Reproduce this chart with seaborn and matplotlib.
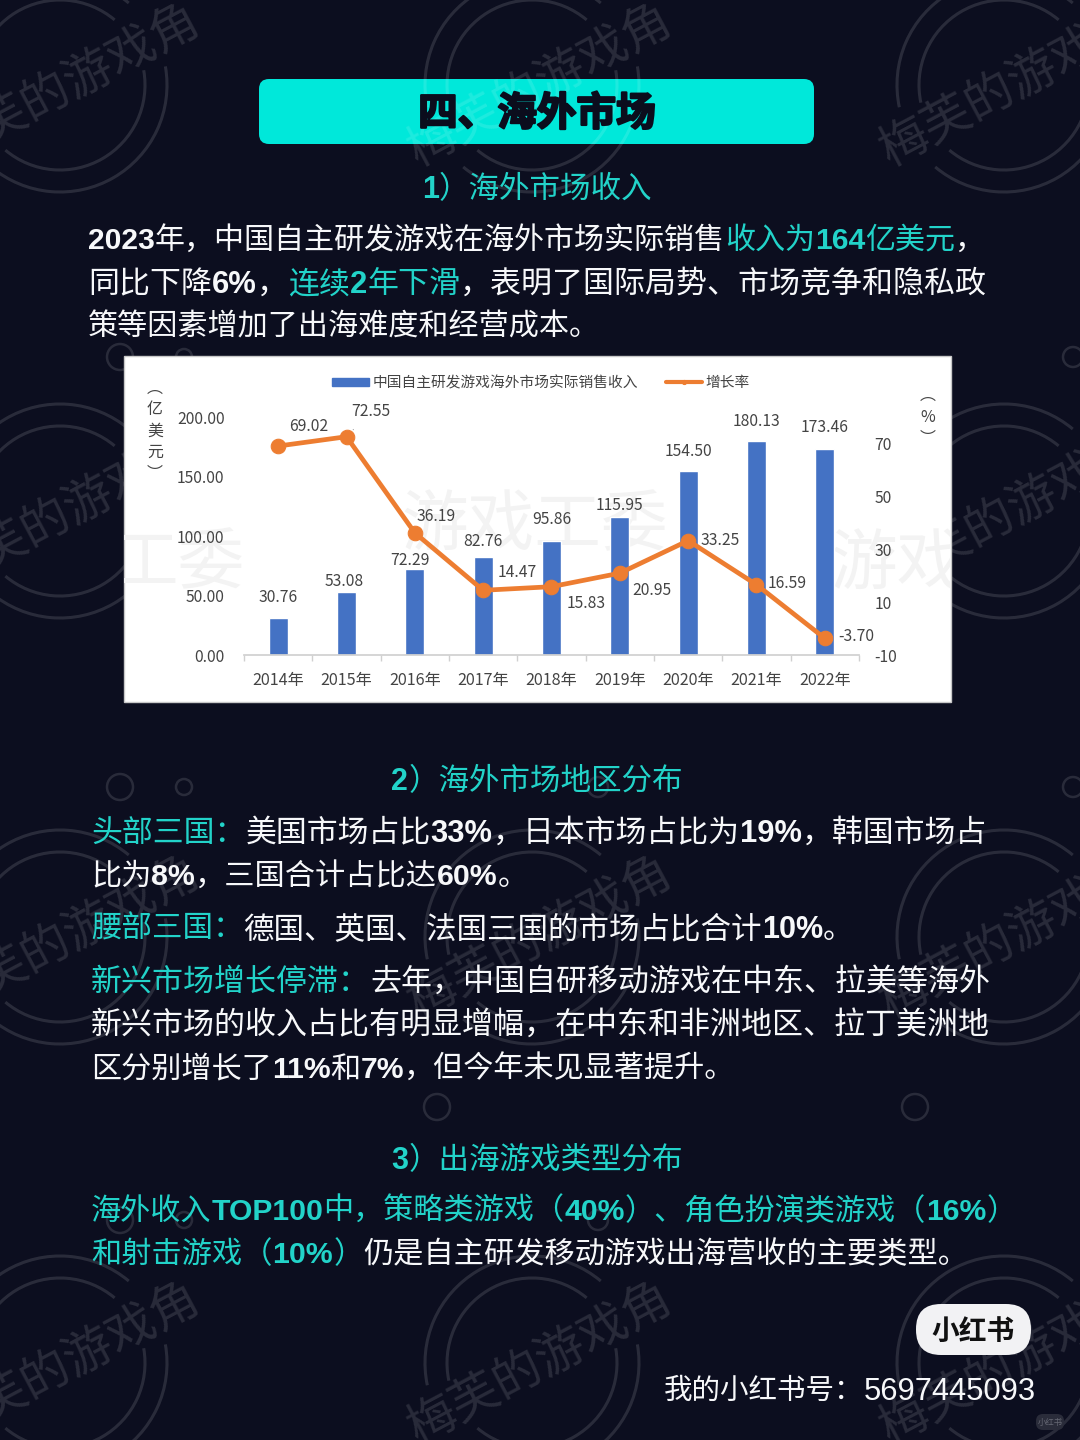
import matplotlib
matplotlib.use('Agg')
import matplotlib.pyplot as plt
from matplotlib.patches import Arc, Circle, FancyBboxPatch, Rectangle, Patch
from matplotlib.font_manager import FontProperties
import matplotlib.patheffects as pe
import seaborn as sns

# chart data
years = ['2014年', '2015年', '2016年', '2017年', '2018年', '2019年', '2020年', '2021年', '2022年']
revenue = [30.76, 53.08, 72.29, 82.76, 95.86, 115.95, 154.50, 180.13, 173.46]
growth = [69.02, 72.55, 36.19, 14.47, 15.83, 20.95, 33.25, 16.59, -3.70]
left_ticks = [0, 50, 100, 150, 200]
right_ticks = [-10, 10, 30, 50, 70]
bar_name = '中国自主研发游戏海外市场实际销售收入'
line_name = '增长率'

BG = '#0c0e1f'
CYAN = '#22d3c9'
WHITE = '#f7f8fa'
CJK = 'Noto Sans CJK SC'
LATIN = 'Liberation Sans'

# page text, one list of runs (text, colour, bold) per line
body = [
    (88, 239, 987, [('2023', WHITE, True), ('年，中国自主研发游戏在海外市场实际销售', WHITE, False), ('收入为', CYAN, False),
                    ('164', CYAN, True), ('亿美元', CYAN, False), ('，', WHITE, False)]),
    (88, 283, 986, [('同比下降', WHITE, False), ('6%', WHITE, True), ('，', WHITE, False), ('连续', CYAN, False), ('2', CYAN, True),
                    ('年下滑', CYAN, False), ('，表明了国际局势、市场竞争和隐私政', WHITE, False)]),
    (88, 326, 600, [('策等因素增加了出海难度和经营成本。', WHITE, False)]),
    (91, 832, 989, [('头部三国：', CYAN, False), ('美国市场占比', WHITE, False), ('33%', WHITE, True), ('，日本市场占比为', WHITE, False),
                    ('19%', WHITE, True), ('，韩国市场占', WHITE, False)]),
    (91, 875, 528, [('比为', WHITE, False), ('8%', WHITE, True), ('，三国合计占比达', WHITE, False), ('60%', WHITE, True), ('。', WHITE, False)]),
    (91, 928, 855, [('腰部三国：', CYAN, False), ('德国、英国、法国三国的市场占比合计', WHITE, False), ('10%', WHITE, True), ('。', WHITE, False)]),
    (91, 981, 990, [('新兴市场增长停滞：', CYAN, False), ('去年，中国自研移动游戏在中东、拉美等海外', WHITE, False)]),
    (91, 1024, 990, [('新兴市场的收入占比有明显增幅，在中东和非洲地区、拉丁美洲地', WHITE, False)]),
    (91, 1068, 737, [('区分别增长了', WHITE, False), ('11%', WHITE, True), ('和', WHITE, False), ('7%', WHITE, True), ('，但今年未见显著提升。', WHITE, False)]),
    (91, 1210, 1018, [('海外收入', CYAN, False), ('TOP100', CYAN, True), ('中，策略类游戏（', CYAN, False), ('40%', CYAN, True),
                      ('）、角色扮演类游戏（', CYAN, False), ('16%', CYAN, True), ('）', CYAN, False)]),
    (91, 1253, 967, [('和射击游戏（', CYAN, False), ('10%', CYAN, True), ('）', CYAN, False), ('仍是自主研发移动游戏出海营收的主要类型。', WHITE, False)]),
]
heads = [(188, '1', '）海外市场收入'), (780, '2', '）海外市场地区分布'), (1159, '3', '）出海游戏类型分布')]

sns.set_theme(style='white')
plt.rcParams['font.family'] = [CJK, 'DejaVu Sans']

fig = plt.figure(figsize=(10.8, 14.4), dpi=100, facecolor=BG)
bg = fig.add_axes([0, 0, 1, 1], zorder=0)
bg.set_xlim(0, 1080)
bg.set_ylim(1440, 0)
bg.axis('off')
renderer = fig.canvas.get_renderer()


def px(v):
    return v * 72 / 100


def run_font(bold, size):
    if bold:
        return FontProperties(family=[LATIN, CJK], weight='bold', size=size)
    return FontProperties(family=[CJK, 'DejaVu Sans'], size=size)


def run_width(s, bold, size):
    # measure with a trailing glyph so the advance of wide punctuation counts
    fp = run_font(bold, size)
    a = renderer.get_text_width_height_descent(s + '口', fp, False)[0]
    b = renderer.get_text_width_height_descent('口', fp, False)[0]
    return a - b


def draw_line(x, yc, runs, right=None, size=22.4):
    if right is not None:
        total = sum(run_width(r[0], r[2], size) for r in runs)
        size = size * (right - x) / total
    base = yc + px(size) * 0.63
    for s, col, b in runs:
        bg.text(x, base, s, color=col, fontproperties=run_font(b, size), va='baseline', ha='left', zorder=6)
        x += run_width(s, b, size)


# watermark tiles
wm = dict(color='white', alpha=0.12, zorder=2)
for cy in [85, 511, 937, 1363]:
    for cx in [60, 532, 1004]:
        for r in [107, 85]:
            bg.add_patch(Arc((cx, cy), 2 * r, 2 * r, theta1=-192, theta2=-50, lw=2.2, fill=False, **wm))
            bg.add_patch(Arc((cx, cy), 2 * r, 2 * r, theta1=-10, theta2=130, lw=2.2, fill=False, **wm))
        bg.text(cx + 8, cy, '梅芙的游戏角', fontsize=35, rotation=28, rotation_mode='anchor',
                ha='center', va='center', clip_on=True, **wm)
for cx, cy, r in [(120, 357, 13), (184, 357, 8), (120, 787, 13), (184, 787, 8), (598, 787, 10), (1073, 357, 10),
                  (1073, 787, 10), (437, 1107, 13), (915, 1107, 13), (120, 1220, 13), (184, 1220, 8), (598, 1220, 10)]:
    bg.add_patch(Circle((cx, cy), r, fill=False, lw=1.8, **wm))

# title banner
bg.add_patch(FancyBboxPatch((269, 89), 535, 45, boxstyle='round,pad=10,rounding_size=10', fc='#00e8da', ec='none', zorder=1))
bg.text(537, 114, '四、海外市场', color='#0b0d1d', fontsize=28.5, fontweight='bold', ha='center', va='center', zorder=6,
        path_effects=[pe.withStroke(linewidth=1.6, foreground='#0b0d1d')])

for yc, num, rest in heads:
    w = run_width(num, True, 22) + run_width(rest, False, 22)
    draw_line(537 - w / 2, yc, [(num, CYAN, True), (rest, CYAN, False)], size=22)
for x, yc, right, runs in body:
    draw_line(x, yc, runs, right=right)

# white panel behind the chart
panel = Rectangle((124, 356), 827, 346, fc='white', ec='#c8c8c8', lw=1, zorder=3)
bg.add_patch(panel)
for x, y, s in [(178, 565, '工委'), (535, 527, '游戏工委'), (897, 565, '游戏')]:
    mark = bg.text(x, y, s, color='#f3f3f3', fontsize=48, ha='center', va='center', zorder=4, clip_on=True)
    mark.set_clip_path(panel)

# chart
W, H = 1080, 1440
ax = fig.add_axes([244 / W, 1 - 655 / H, 615 / W, 238 / H], zorder=2)
ax.patch.set_alpha(0)
sns.barplot(x=years, y=revenue, color='#4472c4', width=0.275, saturation=1, ax=ax)
ax.set_ylim(0, 200)
ax.set_yticks(left_ticks, [f'{v:.2f}' for v in left_ticks])

ax2 = ax.twinx()
ax2.patch.set_alpha(0)
ax2.set_zorder(3)
sns.lineplot(x=years, y=growth, color='#ed7d31', lw=3.4, marker='o', markersize=10.5, markeredgecolor='#ed7d31',
             ax=ax2, legend=False, sort=False)
ax2.set_ylim(-10, 80)
ax2.set_yticks(right_ticks, [str(v) for v in right_ticks])
ax.set_xlim(-0.5, 8.5)

chart_text = '#444444'
label_size = 11.3
for spine in ['top', 'left', 'right']:
    ax.spines[spine].set_visible(False)
    ax2.spines[spine].set_visible(False)
ax.spines['bottom'].set_color('#d0d0d0')
ax2.spines['bottom'].set_visible(False)
ax.set_xticks([i - 0.5 for i in range(10)], minor=True)
ax.tick_params(axis='x', which='minor', length=4, color='#d0d0d0', bottom=True)
ax.tick_params(axis='x', which='major', length=0, pad=12.5, labelsize=11.6, labelcolor=chart_text)
ax.tick_params(axis='y', length=0, pad=14, labelsize=label_size, labelcolor=chart_text)
ax2.tick_params(axis='y', length=0, pad=11, labelsize=label_size, labelcolor=chart_text)
ax.set_xlabel('')
ax.set_ylabel('')
ax2.set_ylabel('')

# label offsets from the mark, in pixels
bar_offsets = [(0, 21), (-2, 10), (-5, 8), (0, 15), (0, 21), (0, 12), (0, 20), (0, 19), (0, 21)]
line_offsets = [(31, 20), (24, 25), (21, 16), (34, 18), (35, -17), (32, -17), (32, 0), (31, 1), (31, 2)]
for i, v in enumerate(revenue):
    dx, dy = bar_offsets[i]
    ax.annotate(f'{v:.2f}', (i, v), xytext=(px(dx), px(dy)), textcoords='offset points', ha='center', va='center',
                fontsize=label_size, color=chart_text)
for i, v in enumerate(growth):
    dx, dy = line_offsets[i]
    arrow = dict(arrowstyle='-', color='#a6a6a6', lw=0.8, shrinkA=6, shrinkB=7) if i == 1 else None
    ax2.annotate(f'{v:.2f}', (i, v), xytext=(px(dx), px(dy)), textcoords='offset points', ha='center', va='center',
                 fontsize=label_size, color=chart_text, arrowprops=arrow, zorder=5)

leg = fig.legend(handles=[Patch(color='#4472c4', label=bar_name), ax2.get_lines()[0]], labels=[bar_name, line_name],
                 loc='center', bbox_to_anchor=(541 / W, 1 - 383 / H), ncol=2, frameon=False, fontsize=10.6,
                 handlelength=2.5, handleheight=0.5, handletextpad=0.2, columnspacing=1.9, labelcolor=chart_text,
                 borderpad=0)
leg.set_zorder(8)
leg.get_lines()[0].set_linewidth(3)
leg.get_lines()[0].set_markersize(3)

# unit labels set as stacked vertical forms
fig.text(155 / W, 1 - 431 / H, '︵\n亿\n美\n元\n︶', ha='center', va='center', fontsize=11.5, color=chart_text, linespacing=1.32, zorder=8)
fig.text(928 / W, 1 - 417 / H, '︵\n%\n︶', ha='center', va='center', fontsize=11.5, color=chart_text, linespacing=1.32, zorder=8)

# footer
bg.add_patch(FancyBboxPatch((941, 1329), 65, 1, boxstyle='round,pad=25,rounding_size=25', fc='#f2f2f4', ec='none', zorder=5))
bg.text(973, 1332, '小红书', color='#111111', fontsize=20, fontweight='bold', ha='center', va='center', zorder=6)
bg.add_patch(FancyBboxPatch((1040, 1418), 20, 8, boxstyle='round,pad=4,rounding_size=7', fc='#2a2c3a', ec='none', zorder=5))
bg.text(1050, 1423, '小红书', color='#666874', fontsize=6, ha='center', va='center', zorder=6)
draw_line(664, 1390, [('我的小红书号：', WHITE, False)], right=864, size=20.5)
bg.text(864, 1390 + 10.5, '5697445093', color=WHITE, fontsize=22.2, fontfamily=LATIN, va='baseline', ha='left', zorder=6)

fig.savefig('out.png', dpi=100, facecolor=BG)
